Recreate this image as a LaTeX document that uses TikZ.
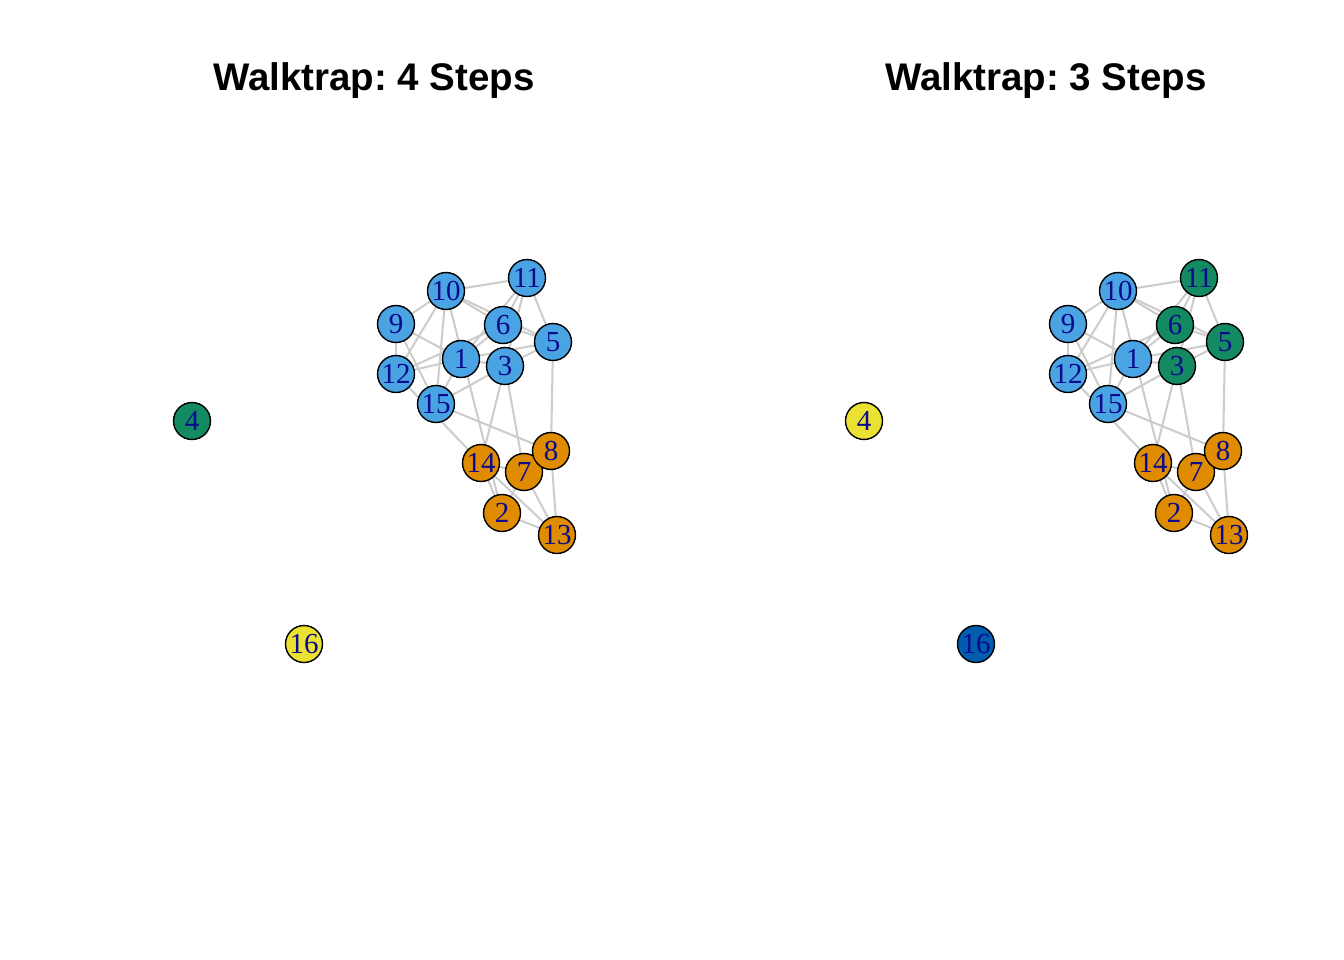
\documentclass[tikz,border=0pt]{standalone}
\usepackage{fontspec}
\setmainfont{Liberation Serif}
\newfontfamily\titlefont{Liberation Sans}
\usetikzlibrary{backgrounds}
\frenchspacing
\definecolor{cblue}{HTML}{4AA3E3}
\definecolor{corange}{HTML}{E08C00}
\definecolor{cgreen}{HTML}{138A62}
\definecolor{cyellow}{HTML}{EBE133}
\definecolor{cdark}{HTML}{005CAC}
\definecolor{cedge}{HTML}{CCCCCC}
\definecolor{clabel}{HTML}{0A0A8C}
\tikzset{
  vtx/.style={circle, draw=black, line width=1.4pt, minimum size=37pt, inner sep=0pt,
    text=clabel, font=\fontsize{29}{29}\selectfont},
  edge/.style={draw=cedge, line width=2pt},
  ttl/.style={font=\titlefont\bfseries\fontsize{38.5}{38.5}\selectfont, text=black}
}
\begin{document}
\begin{tikzpicture}[x=1pt,y=-1pt]
\begin{scope}[on background layer]
\fill[white] (0,0) rectangle (1344,960);
\end{scope}
\useasboundingbox (0,0) rectangle (1344,960);
\node[ttl] (t1) at (374,81) {Walktrap: 4 Steps};
\node[ttl] (t2) at (1046,81) {Walktrap: 3 Steps};
% left panel
\foreach \n/\x/\y/\c in {1/461/359/cblue, 2/502/513/corange, 3/505/366/cblue, 4/192/421/cgreen,
  5/553/342/cblue, 6/503/325/cblue, 7/524/472/corange, 8/551/451/corange, 9/396/324/cblue,
  10/446/291/cblue, 11/527/278/cblue, 12/396/374/cblue, 13/557/535/corange, 14/481/463/corange,
  15/436/404/cblue, 16/304/644/cyellow}
  \node[vtx, fill=\c] (a\n) at (\x,\y) {\n};
% right panel
\foreach \n/\x/\y/\c in {1/461/359/cblue, 2/502/513/corange, 3/505/366/cgreen, 4/192/421/cyellow,
  5/553/342/cgreen, 6/503/325/cgreen, 7/524/472/corange, 8/551/451/corange, 9/396/324/cblue,
  10/446/291/cblue, 11/527/278/cgreen, 12/396/374/cblue, 13/557/535/corange, 14/481/463/corange,
  15/436/404/cblue, 16/304/644/cdark}
  \node[vtx, fill=\c] (b\n) at (\x+672,\y) {\n};
\begin{scope}[on background layer]
\foreach \p in {a,b}{
  \foreach \u/\v in {10/11, 10/9, 10/12, 10/15, 10/2, 10/6, 10/5,
    11/6, 11/3, 11/1, 11/5,
    9/12, 9/1, 9/15,
    6/5, 6/1, 6/12,
    1/12, 1/3, 1/5, 1/15,
    3/5, 3/15, 3/14, 3/7,
    12/14, 15/8, 5/8, 8/13, 14/7,
    14/2, 14/13, 7/2, 7/13, 2/13}
    \draw[edge] (\p\u.center) -- (\p\v.center);
}
\end{scope}
\end{tikzpicture}
\end{document}
